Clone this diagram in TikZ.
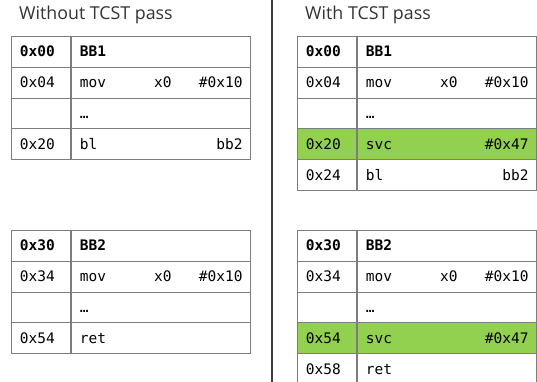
\documentclass[tikz,border=0pt]{standalone}
\usepackage{fontspec}
\setmainfont{Open Sans}
\setmonofont{DejaVu Sans Mono}
\usetikzlibrary{positioning}
\definecolor{svcgreen}{RGB}{146,208,80}
\definecolor{gridgray}{RGB}{125,125,125}
\definecolor{sepgray}{RGB}{60,60,60}

\begin{document}
\begin{tikzpicture}[x=1pt, y=-1pt,
  code/.style={font=\ttfamily\fontsize{14.5pt}{16pt}\selectfont, text height=10pt, text depth=0pt},
  cell/.style={code, draw=gridgray, line width=0.9pt, anchor=north west, minimum height=30.8pt, inner xsep=8.5pt, align=left},
  addr/.style={cell, text width=42pt},
  ins/.style={cell, text width=162pt},
  arg/.style={code, inner sep=0pt},
  title/.style={font=\fontsize{17.8pt}{20pt}\selectfont, text=black!80, inner sep=0pt, anchor=base west}]
\useasboundingbox (0,0) rectangle (537,382);

% headings and separator
\node[title] (without) at (19,20) {Without TCST pass};
\node[title] (with) at (305,20) {With TCST pass};
\draw[sepgray, line width=1.8pt] (272,0) -- (272,382);

% without TCST pass: BB1
\foreach \a/\o/\p/\q/\f [count=\k from 0] in {{\bfseries 0x00}/{\bfseries BB1}/{}/{}/white, 0x04/mov/x0/\#0x10/white, {}/…/{}/{}/white, 0x20/bl/{}/bb2/white}
{
  \node[addr, fill=\f] (p1addr\k) at (11,36+30.8*\k) {\a};
  \node[ins, fill=\f] (p1ins\k) at (p1addr\k.north east) {\o};
  \node[arg, anchor=west] at ([xshift=83pt]p1ins\k.west) {\p};
  \node[arg, anchor=east] at ([xshift=-8pt]p1ins\k.east) {\q};
}

% without TCST pass: BB2
\foreach \a/\o/\p/\q/\f [count=\k from 0] in {{\bfseries 0x30}/{\bfseries BB2}/{}/{}/white, 0x34/mov/x0/\#0x10/white, {}/…/{}/{}/white, 0x54/ret/{}/{}/white}
{
  \node[addr, fill=\f] (p2addr\k) at (11,230+30.8*\k) {\a};
  \node[ins, fill=\f] (p2ins\k) at (p2addr\k.north east) {\o};
  \node[arg, anchor=west] at ([xshift=83pt]p2ins\k.west) {\p};
  \node[arg, anchor=east] at ([xshift=-8pt]p2ins\k.east) {\q};
}

% with TCST pass: BB1
\foreach \a/\o/\p/\q/\f [count=\k from 0] in {{\bfseries 0x00}/{\bfseries BB1}/{}/{}/white, 0x04/mov/x0/\#0x10/white, {}/…/{}/{}/white, 0x20/svc/{}/\#0x47/svcgreen, 0x24/bl/{}/bb2/white}
{
  \node[addr, fill=\f] (q1addr\k) at (297,36+30.8*\k) {\a};
  \node[ins, fill=\f] (q1ins\k) at (q1addr\k.north east) {\o};
  \node[arg, anchor=west] at ([xshift=83pt]q1ins\k.west) {\p};
  \node[arg, anchor=east] at ([xshift=-8pt]q1ins\k.east) {\q};
}

% with TCST pass: BB2
\foreach \a/\o/\p/\q/\f [count=\k from 0] in {{\bfseries 0x30}/{\bfseries BB2}/{}/{}/white, 0x34/mov/x0/\#0x10/white, {}/…/{}/{}/white, 0x54/svc/{}/\#0x47/svcgreen, 0x58/ret/{}/{}/white}
{
  \node[addr, fill=\f] (q2addr\k) at (297,230+30.8*\k) {\a};
  \node[ins, fill=\f] (q2ins\k) at (q2addr\k.north east) {\o};
  \node[arg, anchor=west] at ([xshift=83pt]q2ins\k.west) {\p};
  \node[arg, anchor=east] at ([xshift=-8pt]q2ins\k.east) {\q};
}
\end{tikzpicture}
\end{document}
